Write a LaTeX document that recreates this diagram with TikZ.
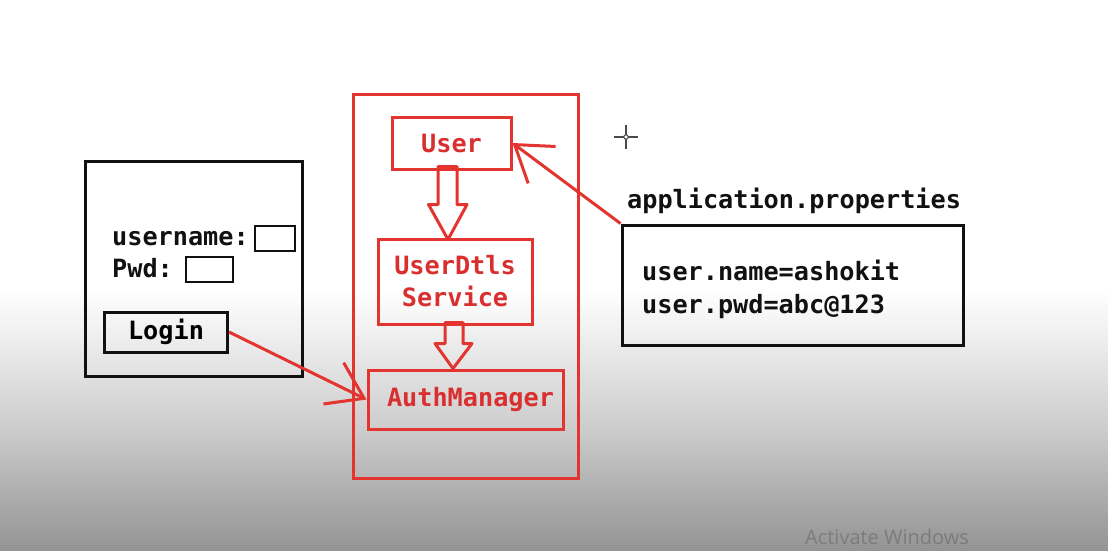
\documentclass[tikz,border=0pt]{standalone}
\usepackage{fontspec}
\setmonofont{DejaVu Sans Mono}
\setsansfont{Open Sans}
\usetikzlibrary{arrows.meta,positioning,calc}
\definecolor{PenRed}{HTML}{E3342F}
\definecolor{InkRed}{HTML}{D92F2F}
\definecolor{PenBlack}{HTML}{111111}
\definecolor{CursorGray}{HTML}{4A4A4A}
\definecolor{WatermarkGray}{HTML}{7C7C7E}
\newcommand{\codefont}{\ttfamily\bfseries\fontsize{25.2}{32}\selectfont}

\begin{document}
\begin{tikzpicture}[x=1pt,y=-1pt,
  blackbox/.style={draw=PenBlack,line width=3pt,inner sep=0pt},
  redbox/.style={draw=PenRed,line width=3pt,inner sep=0pt,text=InkRed,font=\codefont,align=center},
  field/.style={draw=PenBlack,line width=2.5pt,inner sep=0pt},
  code/.style={font=\codefont,text=PenBlack,inner sep=0pt},
  flow/.style={PenRed,line width=3pt,-{Straight Barb[length=34pt,width=46pt]}},
  hollow/.style={draw=PenRed,line width=3pt,line join=round}]
  \useasboundingbox (0,0) rectangle (1108,550);
  % screen background, greyed towards the bottom
  \fill[white] (0,0) rectangle (1108,550);
  \shade[top color=white,bottom color=black!20] (0,290) rectangle (1108,430);
  \shade[top color=black!20,bottom color=black!42] (0,430) rectangle (1108,550);

  % login form
  \node[blackbox,minimum width=217pt,minimum height=215pt] (form) at (193.5,268.5) {};
  \node[code,anchor=base west] (unamelbl) at (112,245) {username:};
  \node[field,minimum width=40pt,minimum height=25pt] (unamefield) at (275,238.5) {};
  \node[code,anchor=base west] (pwdlbl) at (112,277) {Pwd:};
  \node[field,minimum width=47pt,minimum height=25pt] (pwdfield) at (209.5,269.5) {};
  \node[blackbox,minimum width=123pt,minimum height=40pt,font=\codefont] (login) at (166,332) {Login};

  % security container
  \node[draw=PenRed,line width=3pt,minimum width=225pt,minimum height=384pt] (frame) at (465.5,286) {};
  \node[redbox,minimum width=119pt,minimum height=52pt] (user) at (451.5,143) {User};
  \node[redbox,minimum width=154pt,minimum height=85pt] (dtls) at (455,281.5) {UserDtls\\Service};
  \node[redbox,minimum width=195pt,minimum height=59pt] (auth) at (465.5,399.5) {\hspace{10pt}AuthManager};

  \coordinate (tipA) at ($(dtls.north)+(-7,2)$);
  \coordinate (tipB) at ($(auth.north)+(-12.5,0)$);
  \draw[hollow] (tipA) -- ++(-19.5,-35) -- ++(9.5,0) -- ++(0,-38) -- ++(19,0) -- ++(0,38) -- ++(10,0) -- cycle;
  \draw[hollow] (tipB) -- ++(-18,-25) -- ++(10,0) -- ++(0,-21) -- ++(18,0) -- ++(0,21) -- ++(9,0) -- cycle;

  % properties file
  \node[code,anchor=base west] (proplabel) at (627,208) {application.properties};
  \node[blackbox,minimum width=341pt,minimum height=120pt] (props) at (792.5,285) {};
  \node[code,anchor=base west] (propname) at (642,280) {user.name=ashokit};
  \node[code,anchor=base west] (proppwd) at (642,313) {user.pwd=abc@123};

  \draw[flow] (login.east) -- (auth.west);
  \draw[flow] (props.north west) -- (user.east);

  % mouse pointer
  \draw[CursorGray,line width=1.2pt] (614,137) -- (638,137) (626,125) -- (626,149);
  \draw[CursorGray,line width=1pt,fill=white] (626,137) circle (2.2pt);

  \node[anchor=base west,inner sep=0pt,font=\sffamily\fontsize{20}{24}\selectfont,text=WatermarkGray] (watermark) at (805,544) {Activate Windows};
\end{tikzpicture}
\end{document}
